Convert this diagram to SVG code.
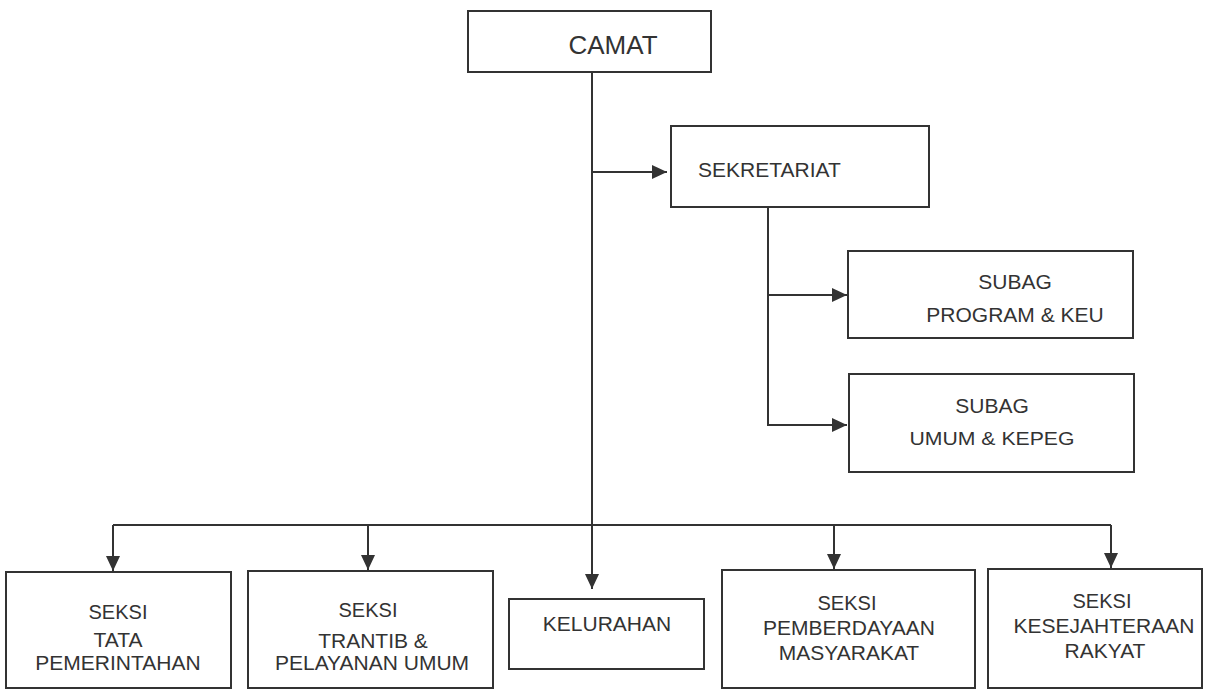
<svg xmlns="http://www.w3.org/2000/svg" width="1209" height="690" viewBox="0 0 1209 690">
<style>
.box{fill:#fff;stroke:#333;stroke-width:2}
.ln{fill:none;stroke:#333;stroke-width:2}
text{font-family:"Liberation Sans",Arial,sans-serif;font-size:21px;fill:#333}
.m{text-anchor:middle}
</style>
<defs>
<marker id="ah" markerUnits="userSpaceOnUse" markerWidth="16" markerHeight="14" refX="15" refY="7" orient="auto">
<path d="M0,0 L15,7 L0,14 Z" fill="#333"/>
</marker>
</defs>
<rect width="1209" height="690" fill="#fff"/>
<g id="connectors">
<path class="ln" d="M592,72 V589" marker-end="url(#ah)"/>
<path class="ln" d="M592,172 H667" marker-end="url(#ah)"/>
<path class="ln" d="M768,208 V425 H847" marker-end="url(#ah)"/>
<path class="ln" d="M768,295 H847" marker-end="url(#ah)"/>
<path class="ln" d="M113,525 H1111"/>
<path class="ln" d="M113,525 V571" marker-end="url(#ah)"/>
<path class="ln" d="M368,525 V570" marker-end="url(#ah)"/>
<path class="ln" d="M834,525 V569" marker-end="url(#ah)"/>
<path class="ln" d="M1111,525 V568" marker-end="url(#ah)"/>
</g>
<g id="camat">
<rect class="box" x="468" y="11" width="243" height="61"/>
<text x="613" y="54" class="m" style="font-size:26px">CAMAT</text>
</g>
<g id="sekretariat">
<rect class="box" x="671" y="126" width="258" height="81"/>
<text x="698" y="177">SEKRETARIAT</text>
</g>
<g id="subag-program">
<rect class="box" x="848" y="251" width="285" height="87"/>
<text x="1015" y="289" class="m">SUBAG</text>
<text x="1015" y="322" class="m">PROGRAM &amp; KEU</text>
</g>
<g id="subag-umum">
<rect class="box" x="849" y="374" width="285" height="98"/>
<text x="992" y="413" class="m">SUBAG</text>
<text x="992" y="445" class="m" style="font-size:19px" textLength="165" lengthAdjust="spacingAndGlyphs">UMUM &amp; KEPEG</text>
</g>
<g id="seksi-tata">
<rect class="box" x="6" y="572" width="225" height="116"/>
<text x="118" y="619" class="m" style="font-size:20px">SEKSI</text>
<text x="118" y="647" class="m">TATA</text>
<text x="118" y="670" class="m">PEMERINTAHAN</text>
</g>
<g id="seksi-trantib">
<rect class="box" x="248" y="571" width="245" height="117"/>
<text x="368" y="617" class="m" style="font-size:20px">SEKSI</text>
<text x="373" y="648" class="m">TRANTIB &amp;</text>
<text x="372" y="670" class="m">PELAYANAN UMUM</text>
</g>
<g id="kelurahan">
<rect class="box" x="509" y="599" width="195" height="70"/>
<text x="607" y="631" class="m">KELURAHAN</text>
</g>
<g id="seksi-pemberdayaan">
<rect class="box" x="722" y="570" width="253" height="118"/>
<text x="847" y="610" class="m" style="font-size:20px">SEKSI</text>
<text x="849" y="635" class="m">PEMBERDAYAAN</text>
<text x="849" y="660" class="m">MASYARAKAT</text>
</g>
<g id="seksi-kesejahteraan">
<rect class="box" x="988" y="569" width="214" height="119"/>
<text x="1102" y="608" class="m" style="font-size:20px">SEKSI</text>
<text x="1104" y="633" class="m">KESEJAHTERAAN</text>
<text x="1105" y="658" class="m">RAKYAT</text>
</g>
</svg>
